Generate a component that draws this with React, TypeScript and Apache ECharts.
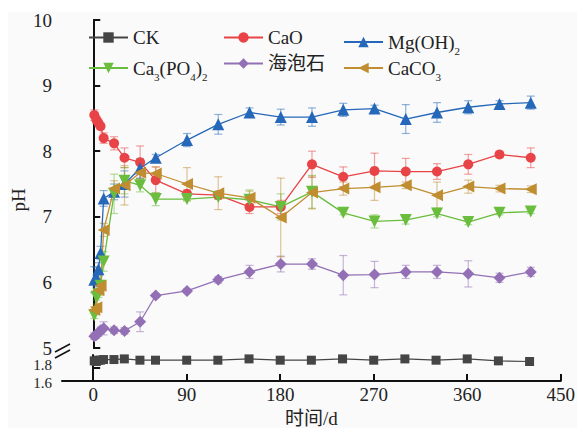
import React, { useEffect, useRef } from 'react';
import * as echarts from 'echarts';

const days = [1, 3, 5, 7, 10, 20, 30, 45, 60, 90, 120, 150, 180, 210, 240, 270, 300, 330, 360, 390, 420];

const ckValues = [1.91, 1.90, 1.92, 1.92, 1.93, 1.93, 1.94, 1.92, 1.92, 1.92, 1.92, 1.94, 1.92, 1.92, 1.94, 1.92, 1.94, 1.92, 1.94, 1.91, 1.90];

const caoValues = [8.55, 8.48, 8.43, 8.38, 8.20, 8.12, 7.90, 7.83, 7.56, 7.35, 7.33, 7.15, 7.15, 7.80, 7.61, 7.70, 7.69, 7.69, 7.80, 7.95, 7.90];
const caoErr = [0.08, 0.06, 0.06, 0.05, 0.08, 0.1, 0.15, 0.25, 0.2, 0.06, 0.06, 0.1, 0.1, 0.2, 0.15, 0.27, 0.2, 0.12, 0.15, 0.05, 0.15];

const mgValues = [6.04, 6.08, 6.2, 6.45, 7.28, 7.38, 7.50, 7.74, 7.90, 8.17, 8.41, 8.59, 8.52, 8.52, 8.63, 8.65, 8.49, 8.59, 8.67, 8.72, 8.74];
const mgErr = [0.2, 0.15, 0.1, 0.1, 0.12, 0.12, 0.2, 0.15, 0.05, 0.1, 0.15, 0.07, 0.12, 0.14, 0.1, 0.05, 0.22, 0.15, 0.1, 0.05, 0.1];

const caPValues = [5.50, 5.78, 5.82, 5.95, 6.32, 7.35, 7.55, 7.48, 7.27, 7.27, 7.30, 7.26, 7.15, 7.38, 7.06, 6.93, 6.95, 7.05, 6.92, 7.06, 7.08];
const caPErr = [0.05, 0.05, 0.05, 0.05, 0.15, 0.3, 0.2, 0.1, 0.1, 0.03, 0.03, 0.15, 0.2, 0.25, 0.03, 0.1, 0.06, 0.05, 0.04, 0.03, 0.03];

const sepValues = [5.18, 5.20, 5.23, 5.27, 5.30, 5.27, 5.26, 5.40, 5.80, 5.87, 6.04, 6.16, 6.28, 6.28, 6.11, 6.12, 6.16, 6.16, 6.13, 6.07, 6.16];
const sepErr = [0.05, 0.05, 0.05, 0.05, 0.1, 0.05, 0.05, 0.15, 0.03, 0.03, 0.05, 0.1, 0.12, 0.08, 0.3, 0.2, 0.1, 0.1, 0.2, 0.07, 0.07];

const cacValues = [5.58, 5.62, 5.88, 5.95, 6.80, 7.43, 7.48, 7.67, 7.66, 7.50, 7.36, 7.29, 6.99, 7.37, 7.43, 7.45, 7.48, 7.33, 7.46, 7.43, 7.42];
const cacErr = [0.05, 0.05, 0.08, 0.08, 0.1, 0.12, 0.3, 0.15, 0.1, 0.25, 0.25, 0.1, 0.6, 0.25, 0.1, 0.2, 0.05, 0.2, 0.1, 0.05, 0.05];

const xTicks = [0, 90, 180, 270, 360, 450];
const lowerYTicks = [1.8];
const lowerYLabelTexts = ['1.8', '1.6'];

const FONT = "'Liberation Serif', 'Times New Roman', 'Noto Sans CJK SC', serif";

const legendLabels: Record<string, string> = {
  'CK': 'CK',
  'CaO': 'CaO',
  'Mg(OH)2': 'Mg(OH){s|2}',
  'Ca3(PO4)2': 'Ca{s|3}(PO{s|4}){s|2}',
  '海泡石': '海泡石',
  'CaCO3': 'CaCO{s|3}',
};

function hexA(hex: string, a: number) {
  const n = parseInt(hex.slice(1), 16);
  return `rgba(${(n >> 16) & 255},${(n >> 8) & 255},${n & 255},${a})`;
}

export default function App() {
  const ref = useRef<HTMLDivElement>(null);
  useEffect(() => {
    const chart = echarts.init(ref.current!, null, { renderer: 'svg' });

    const defs = [
      { name: 'CaO', values: caoValues, err: caoErr, color: '#e84346', symbol: 'circle', size: 10, rotate: 0 },
      { name: 'Mg(OH)2', values: mgValues, err: mgErr, color: '#2567b8', symbol: 'triangle', size: 12, rotate: 0 },
      { name: 'Ca3(PO4)2', values: caPValues, err: caPErr, color: '#6abd3d', symbol: 'triangle', size: 12, rotate: 180 },
      { name: '海泡石', values: sepValues, err: sepErr, color: '#9370b5', symbol: 'diamond', size: 12, rotate: 0 },
      { name: 'CaCO3', values: cacValues, err: cacErr, color: '#c08d30', symbol: 'triangle', size: 12, rotate: 90 },
    ];

    const series: any[] = [];
    defs.forEach((d) => {
      const ec = hexA(d.color, 0.5);
      series.push({
        type: 'custom',
        name: d.name + '_err',
        xAxisIndex: 0,
        yAxisIndex: 0,
        z: 1,
        silent: true,
        data: days.map((x, i) => [x, d.values[i], d.err[i]]),
        renderItem: (_p: any, api: any) => {
          const x = api.value(0), y = api.value(1), e = api.value(2);
          const t = api.coord([x, y + e]);
          const b = api.coord([x, y - e]);
          const hw = 4;
          const st = { stroke: ec, lineWidth: 1.2 };
          return {
            type: 'group',
            children: [
              { type: 'line', shape: { x1: t[0], y1: t[1], x2: b[0], y2: b[1] }, style: st },
              { type: 'line', shape: { x1: t[0] - hw, y1: t[1], x2: t[0] + hw, y2: t[1] }, style: st },
              { type: 'line', shape: { x1: b[0] - hw, y1: b[1], x2: b[0] + hw, y2: b[1] }, style: st },
            ],
          };
        },
      });
    });

    series.push({
      type: 'line',
      name: 'CK',
      xAxisIndex: 1,
      yAxisIndex: 1,
      z: 3,
      data: days.map((x, i) => [x, ckValues[i]]),
      symbol: 'rect',
      symbolSize: 9,
      itemStyle: { color: '#454545' },
      lineStyle: { color: '#454545', width: 1.2 },
    });
    defs.forEach((d) => {
      series.push({
        type: 'line',
        name: d.name,
        xAxisIndex: 0,
        yAxisIndex: 0,
        z: 3,
        data: days.map((x, i) => [x, d.values[i]]),
        symbol: d.symbol,
        symbolSize: d.size,
        symbolRotate: d.rotate,
        itemStyle: { color: d.color },
        lineStyle: { color: d.color, width: 1.3 },
      });
    });

    const legendPos = [
      { name: 'CK', left: 88, row: 0 },
      { name: 'CaO', left: 223, row: 0 },
      { name: 'Mg(OH)2', left: 343, row: 0 },
      { name: 'Ca3(PO4)2', left: 88, row: 1 },
      { name: '海泡石', left: 223, row: 1 },
      { name: 'CaCO3', left: 343, row: 1 },
    ];
    const legends = legendPos.map((l) => ({
      data: [l.name],
      left: l.left,
      top: l.row === 0 ? 27.5 : 53.5,
      padding: 0,
      itemWidth: 39,
      itemHeight: 13,
      selectedMode: false,
      formatter: (n: string) => legendLabels[n],
      textStyle: {
        fontFamily: FONT,
        fontSize: 19,
        lineHeight: 20,
        color: '#222',
        rich: { s: { fontFamily: FONT, fontSize: 11, lineHeight: 20, padding: [18, 0, 0, 0], color: '#222' } },
      },
    }));

    const axisLineStyle = { color: '#111', width: 2 };
    const labelStyle = { fontFamily: FONT, fontSize: 19, color: '#222' };

    const option: any = {
      animation: false,
      grid: [
        { left: 62, right: 16, top: 20, height: 328 },
        { left: 62, right: 16, top: 355, height: 26 },
      ],
      legend: legends,
      xAxis: [
        { type: 'value', gridIndex: 0, min: -30, max: 450, show: false },
        {
          type: 'value', gridIndex: 1, min: -30, max: 450,
          axisLine: { show: true, lineStyle: axisLineStyle },
          axisTick: { show: true, inside: true, length: 7, lineStyle: axisLineStyle, customValues: xTicks },
          axisLabel: { ...labelStyle, margin: 4, customValues: xTicks },
          splitLine: { show: false },
          name: '时间/d',
          nameLocation: 'middle',
          nameGap: 28,
          nameTextStyle: { ...labelStyle },
        },
      ],
      yAxis: [
        {
          type: 'value', gridIndex: 0, min: 5, max: 10, interval: 1,
          axisLine: { show: true, lineStyle: axisLineStyle },
          axisTick: { show: true, inside: true, length: 7, lineStyle: axisLineStyle },
          axisLabel: { ...labelStyle, margin: 10 },
          splitLine: { show: false },
        },
        {
          type: 'value', gridIndex: 1, min: 1.6, max: 2.0,
          axisLine: { show: true, lineStyle: axisLineStyle },
          axisTick: { show: true, inside: true, length: 7, lineStyle: axisLineStyle, customValues: lowerYTicks },
          axisLabel: { show: false },
          splitLine: { show: false },
        },
      ],
      graphic: [
        {
          type: 'text', x: 18, y: 200, rotation: Math.PI / 2,
          style: { text: 'pH', fontFamily: FONT, fontSize: 19, fill: '#222', align: 'center', verticalAlign: 'middle' },
        },
        {
          type: 'text', x: 52, y: 365,
          style: { text: lowerYLabelTexts[0], fontFamily: FONT, fontSize: 15, fill: '#222', align: 'right', verticalAlign: 'middle' },
        },
        {
          type: 'text', x: 52, y: 383,
          style: { text: lowerYLabelTexts[1], fontFamily: FONT, fontSize: 15, fill: '#222', align: 'right', verticalAlign: 'middle' },
        },
        { type: 'line', shape: { x1: 55, y1: 352, x2: 70, y2: 344 }, style: { stroke: '#111', lineWidth: 1.5 } },
        { type: 'line', shape: { x1: 55, y1: 358, x2: 70, y2: 350 }, style: { stroke: '#111', lineWidth: 1.5 } },
      ],
      series,
    };
    chart.setOption(option);
    return () => chart.dispose();
  }, []);

  return (
    <div style={{ position: 'fixed', left: 0, top: 0, width: 578, height: 429, background: '#fff' }}>
      <div style={{ position: 'absolute', left: 8, top: 12, width: 569, height: 416, background: '#fafafa' }} />
      <div ref={ref} style={{ position: 'absolute', left: 0, top: 0, width: 578, height: 429 }} />
    </div>
  );
}
